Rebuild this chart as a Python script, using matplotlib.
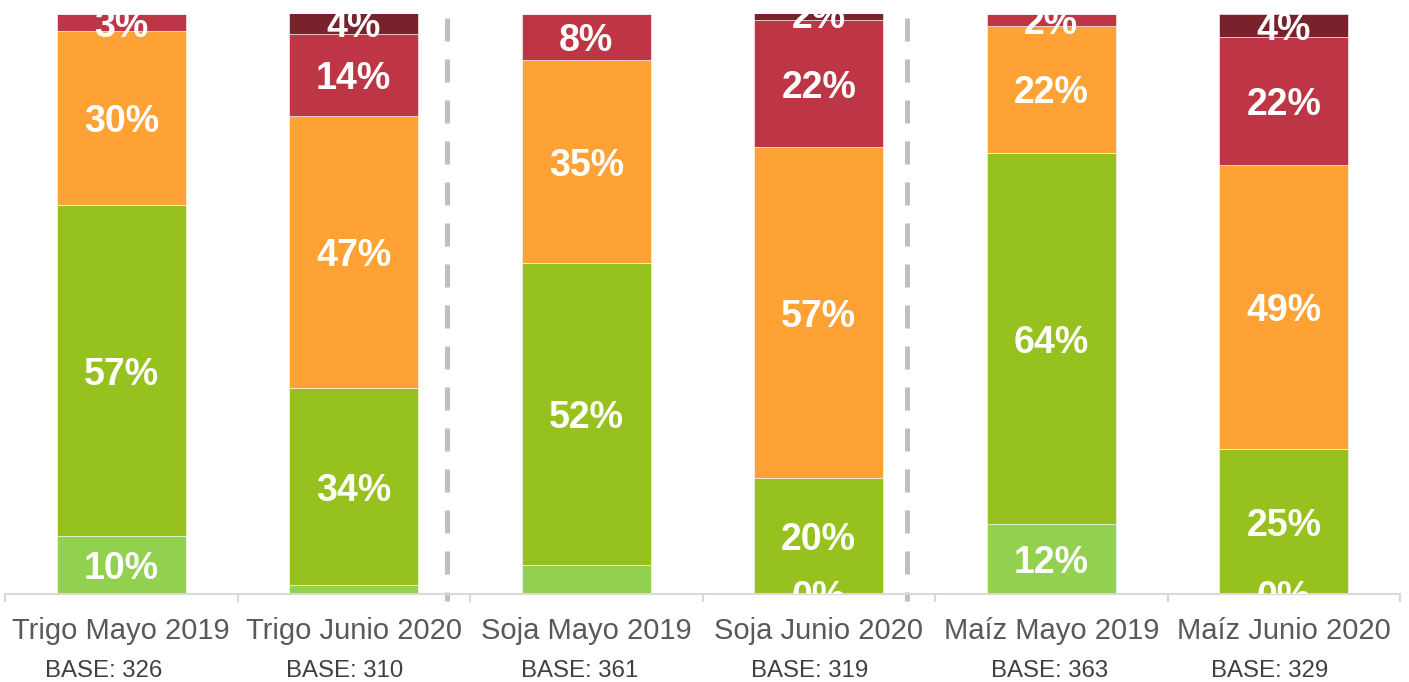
import numpy as np
import matplotlib.pyplot as plt

plt.rcParams['font.family'] = ['Liberation Sans', 'DejaVu Sans']

# categorias y bases
categorias = ['Trigo Mayo 2019', 'Trigo Junio 2020', 'Soja Mayo 2019',
              'Soja Junio 2020', 'Maíz Mayo 2019', 'Maíz Junio 2020']
bases = ['BASE: 326', 'BASE: 310', 'BASE: 361', 'BASE: 319', 'BASE: 363', 'BASE: 329']

# porcentajes por segmento (de abajo hacia arriba)
verde_claro = [10, 1.5, 5, 0, 12, 0]
verde = [57, 34, 52, 20, 64, 25]
naranja = [30, 47, 35, 57, 22, 49]
rojo = [3, 14, 8, 22, 2, 22]
rojo_oscuro = [0, 4, 0, 2, 0, 4]

# etiquetas que no se muestran: (serie, categoria)
ocultas = [(0, 1), (0, 2), (4, 0), (4, 2), (4, 4)]

series = [verde_claro, verde, naranja, rojo, rojo_oscuro]
colores = ['#92D050', '#96C11E', '#FFA235', '#BE3545', '#7A222C']

# desplazamiento horizontal de los textos BASE respecto a la barra
desplaz_base = [-0.077, -0.041, -0.03, -0.039, -0.006, -0.06]

fig = plt.figure(figsize=(14.09, 6.82), dpi=100)
ax = fig.add_axes([5/1409, 1 - 594/682, 1395/1409, 580/682])

x = np.arange(len(categorias))
abajo = np.zeros(len(categorias))
for s, (vals, c) in enumerate(zip(series, colores)):
    vals = np.array(vals, dtype=float)
    ax.bar(x, vals, 0.555, bottom=abajo, color=c, edgecolor='white', linewidth=0.4)
    for i in range(len(x)):
        if (s, i) in ocultas:
            continue
        ax.text(x[i], abajo[i] + vals[i] / 2, f'{vals[i]:.0f}%', ha='center',
                va='center_baseline', color='white', fontsize=27, fontweight='bold',
                clip_on=True)
    abajo = abajo + vals

# lineas punteadas separadoras
for xd in [1.4, 3.38]:
    ax.plot([xd, xd], [99.3, -1.2], color='#BFBFBF', lw=3.6, dashes=(4.6, 3.6),
            solid_capstyle='butt', dash_capstyle='butt', clip_on=False)

ax.set_xlim(-0.5, 5.5)
ax.set_ylim(0, 100)
for lado in ['top', 'right', 'left']:
    ax.spines[lado].set_visible(False)
ax.spines['bottom'].set_color('#D9D9D9')
ax.spines['bottom'].set_linewidth(1.5)
ax.set_yticks([])
ax.set_xticks(np.arange(-0.5, 6, 1))
ax.set_xticklabels([])
ax.tick_params(axis='x', direction='out', length=6, width=1.5, color='#D9D9D9')

trans = ax.get_xaxis_transform()
for i in range(len(categorias)):
    ax.text(x[i], -0.0776, categorias[i], transform=trans, ha='center', va='baseline',
            fontsize=21, color='#595959')
    ax.text(x[i] + desplaz_base[i], -0.143, bases[i], transform=trans, ha='center',
            va='baseline', fontsize=17.3, color='#404040')

fig.savefig('out.png', dpi=100)
